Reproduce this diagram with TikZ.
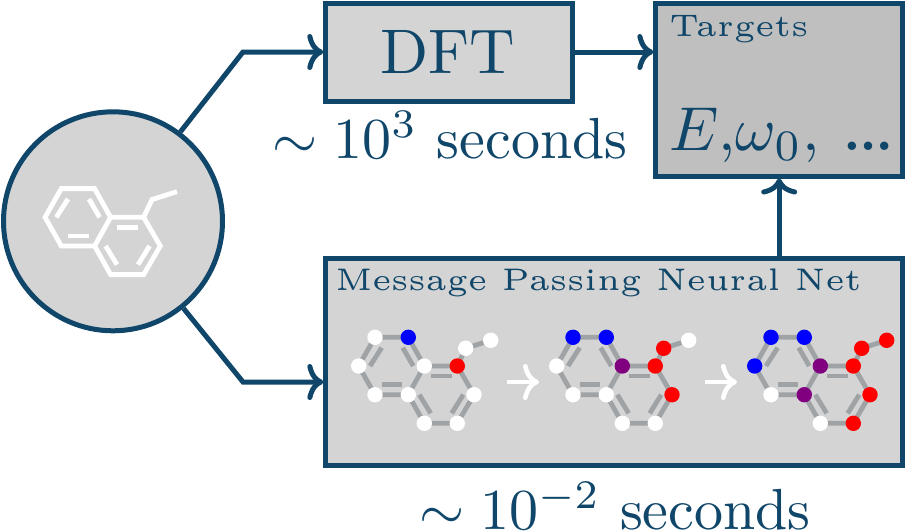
\documentclass[tikz,border=0pt]{standalone}
\usetikzlibrary{positioning, arrows.meta}
\definecolor{navy}{RGB}{15,70,105}
\definecolor{bondgray}{RGB}{160,163,166}
\definecolor{atompurple}{RGB}{128,0,128}
\tikzset{
    bigtip/.style={-{Computer Modern Rightarrow[width=18pt, length=8pt]}},
    boxline/.style={draw=navy, line width=2.5pt},
    flow/.style={bigtip, navy, line width=2.5pt},
    bigtext/.style={navy, font=\normalsize, scale=2.9, inner sep=0pt, anchor=base},
    smalltext/.style={navy, font=\tiny, scale=3.12, inner sep=0pt, anchor=base west},
    atom/.style={circle, fill=#1, minimum size=7.7pt, inner sep=0pt},
}
% ring skeleton, #1 prefix, #2 colour
\newcommand{\ringbonds}[2]{
    \coordinate (#1a) at (375,337.3);
    \coordinate (#1b) at (408.3,337.3);
    \coordinate (#1c) at (424.3,366);
    \coordinate (#1d) at (457.3,366);
    \coordinate (#1e) at (474,394.7);
    \coordinate (#1f) at (457.3,423.3);
    \coordinate (#1g) at (424.3,423.3);
    \coordinate (#1h) at (408.3,394.7);
    \coordinate (#1i) at (375,394.7);
    \coordinate (#1j) at (358.7,366);
    \coordinate (#1k) at (465.7,348.3);
    \coordinate (#1l) at (490.7,340.3);
    \draw[#2, line width=2.4pt, line join=miter] (#1a) -- (#1b) -- (#1c) -- (#1h) -- (#1i) -- (#1j) -- cycle;
    \draw[#2, line width=2.4pt, line join=miter] (#1c) -- (#1d) -- (#1e) -- (#1f) -- (#1g) -- (#1h);
    \draw[#2, line width=2.4pt, line join=miter] (#1d) -- (#1k) -- (#1l);
    \draw[#2, line width=2.4pt] (381.7,347.7) -- (370,366);
    \draw[#2, line width=2.4pt] (402.7,347.7) -- (413.3,366);
    \draw[#2, line width=2.4pt] (381.7,384.7) -- (402.3,384.7);
    \draw[#2, line width=2.4pt] (430.7,376) -- (451.7,376);
    \draw[#2, line width=2.4pt] (463.3,394.7) -- (451.7,413.3);
    \draw[#2, line width=2.4pt] (419.3,394.7) -- (430.7,413.3);
}
\begin{document}
\begin{tikzpicture}[x=0.5pt, y=-0.5pt]
    \useasboundingbox (0,0) rectangle (906,531);

    % boxes
    \node[circle, boxline, fill=black!17, minimum size=109.5pt, inner sep=0pt] (mol) at (113,221.3) {};
    \node[rectangle, boxline, fill=black!17, minimum width=123.4pt, minimum height=49.25pt, inner sep=0pt] (dft) at (449.2,52.7) {};
    \node[rectangle, boxline, fill=black!25, minimum width=123.35pt, minimum height=86.25pt, inner sep=0pt] (targets) at (779.2,89.75) {};
    \node[rectangle, boxline, fill=black!17, minimum width=288.35pt, minimum height=103.25pt, inner sep=0pt] (mpnn) at (614.2,361.75) {};

    % text
    \node[navy, font=\normalsize, scale=3.15, inner sep=0pt, anchor=base] (dftlabel) at (447.5,73.5) {DFT};
    \node[bigtext] (dfttime) at (450,158.5) {$\sim 10^3$ seconds};
    \node[bigtext] (mpnntime) at (615,529.5) {$\sim 10^{-2}$ seconds};
    \node[smalltext] (targetslabel) at (668,36) {Targets};
    \node[bigtext, scale=1.07, anchor=base west] (targetsvals) at (668,150.7) {$E$,$\omega_0$, {\fontsize{14}{14}\selectfont\dots}};
    \node[smalltext] (mpnnlabel) at (334,290.7) {Message Passing Neural Net};

    % connectors
    \coordinate (upper) at (243,52);
    \coordinate (lower) at (243,382);
    \draw[flow] (mol.53) -- (upper) -- (dft.west |- upper);
    \draw[flow] (mol.-51) -- (lower) -- (mpnn.west |- lower);
    \draw[flow] (dft.east |- upper) -- (targets.west |- upper);
    \draw[flow] (mpnn.north -| targets) -- (targets.south);

    % molecule in the circle
    \begin{scope}[shift={(-313.7,-148.7)}]
        \ringbonds{w}{white}
    \end{scope}

    % molecules in the net
    \foreach \dx/\m in {0/p, 198/q, 396/r} {
        \begin{scope}[shift={(\dx,0)}]
            \ringbonds{\m}{bondgray}
        \end{scope}
    }

    \foreach \n/\col in {a/white, b/blue, c/white, d/red, e/white, f/white, g/white, h/white, i/white, j/white, k/white, l/white} {
        \node[atom=\col] (pa\n) at (p\n) {};
    }
    \foreach \n/\col in {a/blue, b/blue, c/atompurple, d/red, e/red, f/white, g/white, h/white, i/white, j/white, k/red, l/white} {
        \node[atom=\col] (qa\n) at (q\n) {};
    }
    \foreach \n/\col in {a/blue, b/blue, c/atompurple, d/red, e/red, f/red, g/white, h/atompurple, i/white, j/blue, k/red, l/red} {
        \node[atom=\col] (ra\n) at (r\n) {};
    }

    % white arrows
    \coordinate (arrowa) at (507,382);
    \coordinate (arrowb) at (539,382);
    \coordinate (arrowc) at (705,382);
    \coordinate (arrowd) at (737,382);
    \draw[bigtip, white, line width=2.3pt] (arrowa) -- (arrowb);
    \draw[bigtip, white, line width=2.3pt] (arrowc) -- (arrowd);
\end{tikzpicture}
\end{document}
